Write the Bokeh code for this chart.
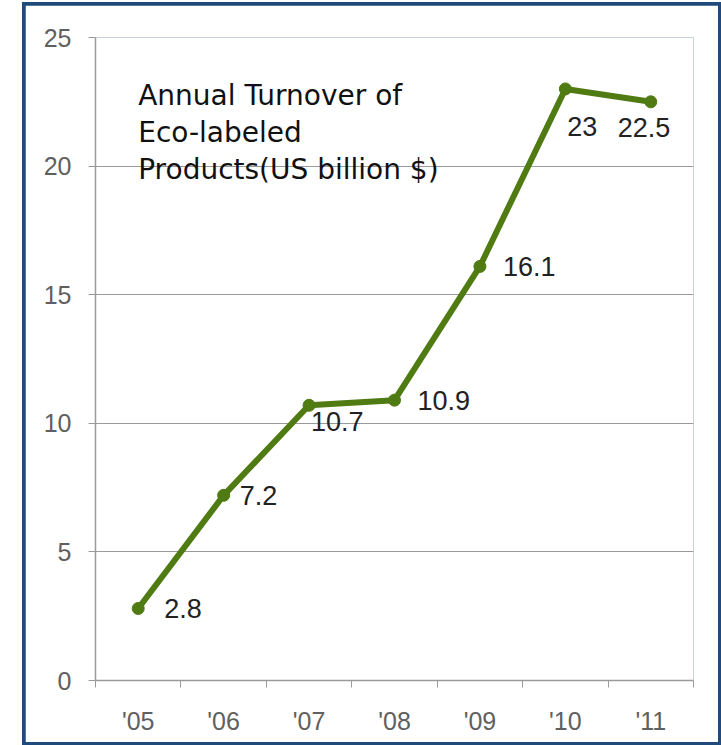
from bokeh.plotting import figure
from bokeh.layouts import column
from bokeh.models import Range1d, FixedTicker, ColumnDataSource, Label
from bokeh.core.properties import value
from bokeh.embed import file_html
from bokeh.resources import INLINE

# ---- data ----
years = ["'05", "'06", "'07", "'08", "'09", "'10", "'11"]
turnover = [2.8, 7.2, 10.7, 10.9, 16.1, 23, 22.5]
y_ticks = [0, 5, 10, 15, 20, 25]
title_text = "Annual Turnover of\nEco-labeled\nProducts(US billion $)"

# ---- label placement (pixels, style only) ----
label_dx = [26, 16, 2, 23, 23, 2, -33]
label_dy = [0, 0, 16, 0, 0, 38, 26]

xs = [i + 0.5 for i in range(len(years))]
src = ColumnDataSource(dict(
    x=xs, y=turnover,
    lbl=[f"{v:g}" for v in turnover],
    dx=label_dx, dy=label_dy,
))

GREEN = "#4f7b12"
GREY = "#9a9a9a"

p = figure(width=693, height=737,
           x_range=Range1d(0, len(years)), y_range=Range1d(0, 25),
           output_backend="svg", toolbar_location=None,
           min_border_left=70, min_border_right=25,
           min_border_top=32, min_border_bottom=62)
p.margin = 3
p.outline_line_color = None
p.background_fill_color = "white"
p.border_fill_color = "white"

# y axis
p.yaxis.ticker = FixedTicker(ticks=y_ticks)
p.yaxis.axis_line_color = GREY
p.yaxis.axis_line_width = 1.5
p.yaxis.major_tick_line_color = GREY
p.yaxis.major_tick_out = 7
p.yaxis.major_tick_in = 0
p.yaxis.minor_tick_line_color = None
p.yaxis.major_label_standoff = 17
p.yaxis.major_label_text_font = "Liberation Sans"
p.yaxis.major_label_text_font_size = "25px"
p.yaxis.major_label_text_color = "#606060"

# x axis: labels at category centres, tick marks at boundaries
p.xaxis.ticker = FixedTicker(ticks=xs, minor_ticks=list(range(len(years) + 1)))
p.xaxis.major_label_overrides = {x: y for x, y in zip(xs, years)}
p.xaxis.axis_line_color = GREY
p.xaxis.axis_line_width = 1.5
p.xaxis.major_tick_line_color = None
p.xaxis.major_tick_out = 0
p.xaxis.major_tick_in = 0
p.xaxis.minor_tick_line_color = GREY
p.xaxis.minor_tick_out = 7
p.xaxis.minor_tick_in = 0
p.xaxis.major_label_standoff = 19
p.xaxis.major_label_text_font = "Liberation Sans"
p.xaxis.major_label_text_font_size = "25px"
p.xaxis.major_label_text_color = "#606060"

p.xgrid.grid_line_color = None
p.ygrid.ticker = FixedTicker(ticks=y_ticks)
p.ygrid.grid_line_color = GREY
p.ygrid.grid_line_width = 1

p.line("x", "y", source=src, line_color=GREEN, line_width=6, line_join="round")
p.scatter("x", "y", source=src, size=12, fill_color=GREEN, line_color=GREEN)

p.text("x", "y", text="lbl", source=src, x_offset="dx", y_offset="dy",
       text_font=value("Liberation Sans"), text_font_size="27px",
       text_color="#222222", text_baseline="middle", text_align="left")

p.add_layout(Label(x=0.5, y=23.4, text=title_text,
                   text_font="DejaVu Sans", text_font_size="28px",
                   text_color="#111111", text_baseline="top",
                   text_align="left", text_line_height=1.12))

layout = column(p, margin=(2, 0, 0, 22),
                styles={"background-color": "#1f4a7c"})

open("out.html", "w").write(file_html(layout, INLINE))
